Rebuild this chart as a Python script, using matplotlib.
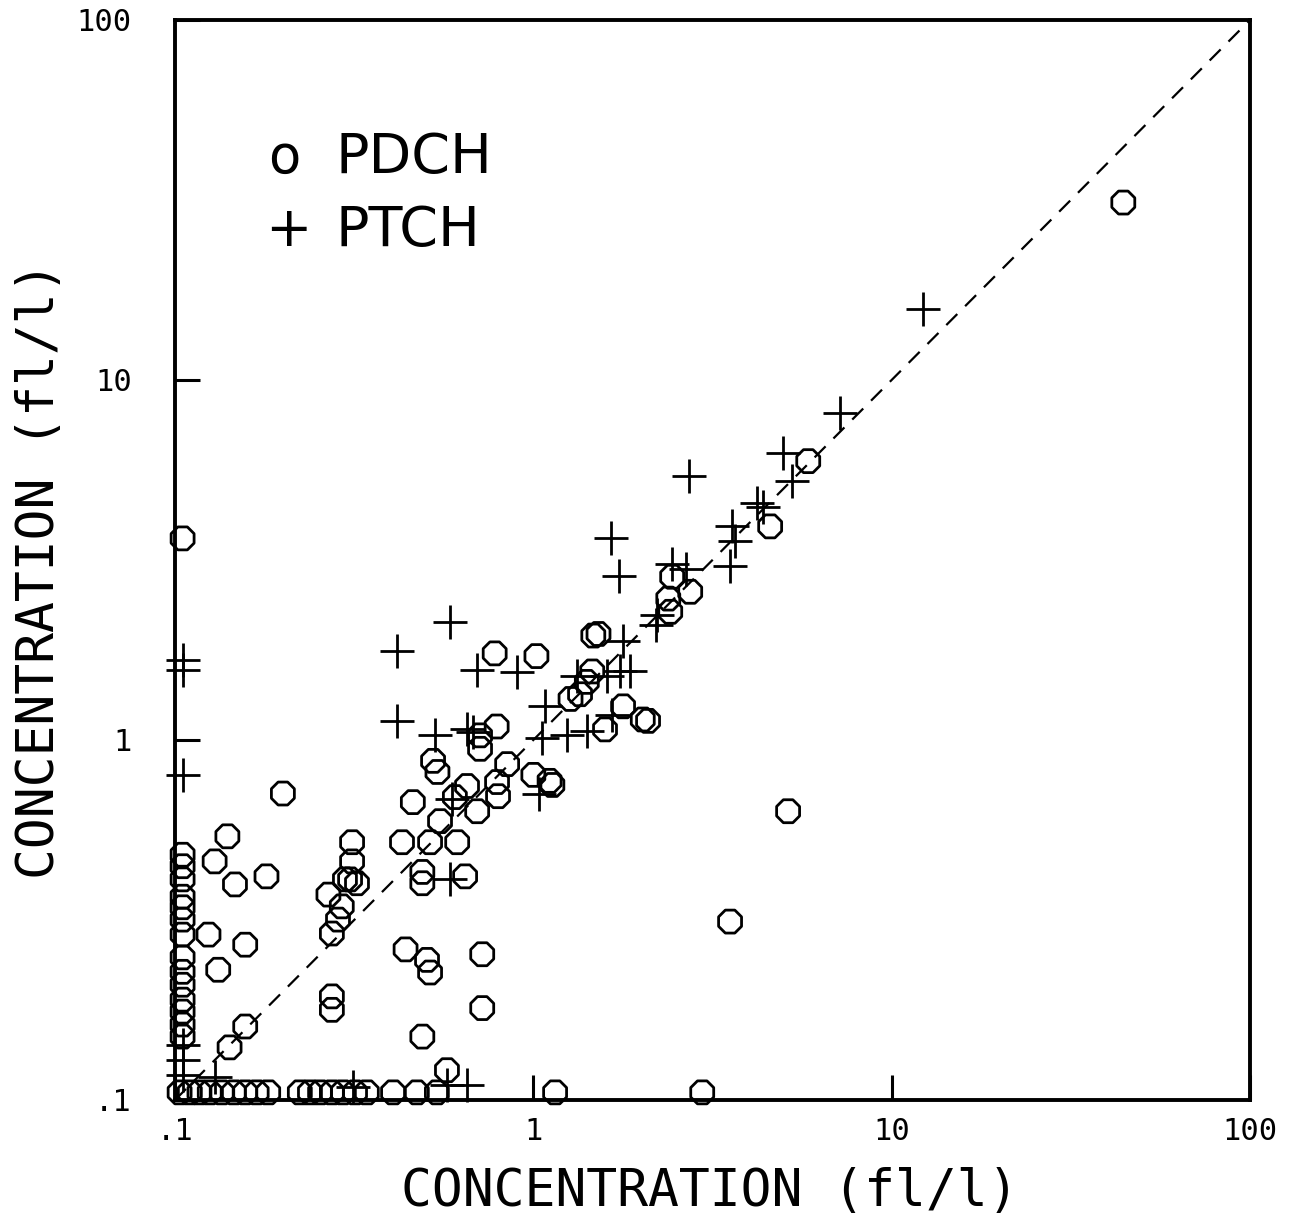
import matplotlib
matplotlib.use("Agg")
import matplotlib.pyplot as plt
from matplotlib.ticker import FixedLocator, FixedFormatter, NullLocator

# PDCH (open octagons)
pdch_x = [0.105, 0.105, 0.105, 0.105, 0.105, 0.105, 0.105, 0.105, 0.105, 0.105,
          0.105, 0.105, 0.105, 0.105, 0.105,
          0.14, 0.129, 0.147, 0.18, 0.124, 0.157, 0.132, 0.157, 0.142, 0.2,
          0.312, 0.312, 0.308, 0.322, 0.298, 0.268, 0.292, 0.285, 0.274, 0.274, 0.274,
          0.44, 0.505, 0.515, 0.72, 0.72, 0.49, 0.574,
          0.43, 0.515, 0.613, 0.49, 0.49, 0.645, 0.461, 0.604, 0.653, 0.697,
          0.549, 0.792, 0.797, 0.525, 0.54, 0.845, 0.71, 0.79, 0.71, 0.78,
          1.02, 1.0, 1.11, 1.13,
          2.44, 2.74, 2.38, 2.41, 1.47, 1.52, 1.46, 1.41, 1.27, 1.35, 1.78,
          1.585, 2.02, 2.09,
          44.3, 5.85, 4.58, 5.14, 3.54,
          0.103, 0.110, 0.117, 0.125, 0.135, 0.146, 0.157, 0.169, 0.182, 0.223,
          0.238, 0.254, 0.274, 0.294, 0.318, 0.343, 0.406, 0.473, 0.538, 1.15, 2.96]
pdch_y = [3.63, 0.48, 0.446, 0.41, 0.367, 0.343, 0.317, 0.288, 0.249, 0.227,
          0.209, 0.19, 0.176, 0.162, 0.15,
          0.54, 0.46, 0.397, 0.418, 0.288, 0.27, 0.23, 0.16, 0.14, 0.71,
          0.52, 0.46, 0.41, 0.40, 0.41, 0.372, 0.345, 0.317, 0.29, 0.194, 0.178,
          0.262, 0.245, 0.226, 0.254, 0.18, 0.15, 0.121,
          0.52, 0.52, 0.52, 0.43, 0.40, 0.418, 0.672, 0.694, 0.745, 0.634,
          0.595, 0.764, 0.698, 0.875, 0.815, 0.857, 1.03, 1.09, 0.945, 1.74,
          1.71, 0.80, 0.77, 0.75,
          2.84, 2.58, 2.47, 2.27, 1.95, 1.97, 1.55, 1.45, 1.30, 1.34, 1.24,
          1.07, 1.14, 1.13,
          31.1, 5.95, 3.92, 0.634, 0.313,
          0.105, 0.105, 0.105, 0.105, 0.105, 0.105, 0.105, 0.105, 0.105, 0.105,
          0.105, 0.105, 0.105, 0.105, 0.105, 0.105, 0.105, 0.105, 0.105, 0.105, 0.105]

# PTCH (plus signs)
ptch_x = [12.2, 7.18, 4.98, 5.27, 4.21, 4.38, 3.59, 3.66, 3.54, 2.72,
          1.65, 1.73, 2.44, 2.67, 2.21, 2.2, 1.78, 0.586, 0.417, 0.697,
          0.901, 1.32, 1.61, 1.75, 1.86, 1.08, 1.06, 1.24, 1.41, 1.66,
          0.417, 0.532, 0.653, 0.679, 1.04, 0.593, 0.586,
          0.105, 0.105, 0.105, 0.105, 0.105, 0.105, 0.129, 0.314, 0.574, 0.653]
ptch_y = [15.7, 8.09, 6.26, 5.23, 4.54, 4.45, 3.94, 3.56, 3.04, 5.40,
          3.63, 2.85, 3.09, 2.99, 2.22, 2.08, 1.88, 2.13, 1.77, 1.56,
          1.54, 1.51, 1.51, 1.55, 1.55, 1.24, 1.01, 1.03, 1.06, 1.17,
          1.13, 1.03, 1.07, 1.05, 0.71, 0.685, 0.41,
          1.67, 1.56, 0.80, 0.142, 0.129, 0.117, 0.116, 0.109, 0.11, 0.11]

ticks = [0.1, 1, 10, 100]
tick_labels = ['.1', '1', '10', '100']
axis_label = 'CONCENTRATION (fl/l)'

mono = 'DejaVu Sans Mono'

fig = plt.figure(figsize=(13.1, 12.16), dpi=100)
ax = fig.add_axes([0.1336, 0.0954, 0.8206, 0.8882])
ax.set_xscale('log')
ax.set_yscale('log')
ax.set_xlim(0.1, 100)
ax.set_ylim(0.1, 100)

# 1:1 line
ax.plot([0.1, 100], [0.1, 100], color='black', lw=1.6, dashes=(7, 5))

ax.scatter(pdch_x, pdch_y, marker='8', s=320, facecolors='none',
           edgecolors='black', linewidths=2.0, clip_on=False, zorder=3)
ax.scatter(ptch_x, ptch_y, marker='+', s=620, color='black',
           linewidths=2.0, clip_on=False, zorder=3)

for sp in ax.spines.values():
    sp.set_linewidth(2.8)

ax.xaxis.set_major_locator(FixedLocator(ticks))
ax.yaxis.set_major_locator(FixedLocator(ticks))
ax.xaxis.set_major_formatter(FixedFormatter(tick_labels))
ax.yaxis.set_major_formatter(FixedFormatter(tick_labels))
ax.xaxis.set_minor_locator(NullLocator())
ax.yaxis.set_minor_locator(NullLocator())
ax.tick_params(which='major', direction='in', length=18, width=2.2,
               labelsize=22)
ax.tick_params(axis='x', pad=12)
ax.tick_params(axis='y', pad=31)
for lab in ax.get_xticklabels() + ax.get_yticklabels():
    lab.set_family(mono)

# legend drawn as text, as in the original plot
ax.text(0.087, 0.872, 'o', transform=ax.transAxes, fontsize=38,
        va='center', ha='left')
ax.text(0.149, 0.872, 'PDCH', transform=ax.transAxes, fontsize=40,
        va='center', ha='left')
ax.text(0.084, 0.805, '+', transform=ax.transAxes, fontsize=40,
        va='center', ha='left')
ax.text(0.149, 0.805, 'PTCH', transform=ax.transAxes, fontsize=40,
        va='center', ha='left')

fig.text(710 / 1310, 1 - 1192 / 1216, axis_label, fontsize=37, family=mono,
         ha='center', va='center')
fig.text(40 / 1310, 1 - 570 / 1216, axis_label, fontsize=37, family=mono,
         ha='center', va='center', rotation=90)

fig.savefig('out.png', dpi=100)
